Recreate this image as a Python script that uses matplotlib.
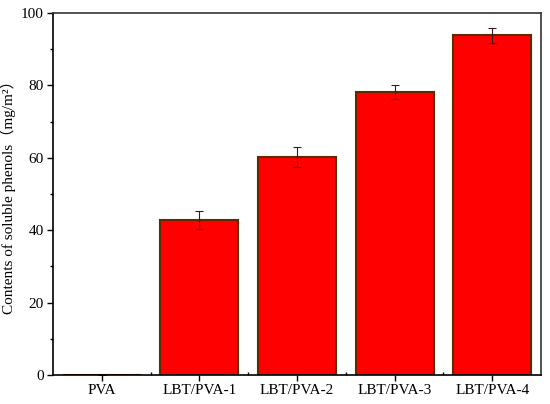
import matplotlib
matplotlib.use("Agg")
import matplotlib.pyplot as plt
import numpy as np
from matplotlib.ticker import MultipleLocator, FixedLocator

# data
samples = ["PVA", "LBT/PVA-1", "LBT/PVA-2", "LBT/PVA-3", "LBT/PVA-4"]
phenols = [0, 42.8, 60.2, 78.1, 93.8]
phenols_err = [0, 2.4, 2.8, 1.9, 2.1]

plt.rcParams['font.family'] = ['Liberation Serif', 'Noto Sans CJK SC']

fig = plt.figure(figsize=(5.5, 4.04), dpi=100)
ax = fig.add_axes([0.0964, 0.0718, 0.8872, 0.896])

x = np.arange(len(samples))
ax.bar(x, phenols, width=0.8, color='#ff0000', edgecolor='#5e2a00', linewidth=1.5,
       yerr=phenols_err, error_kw=dict(ecolor='#3a1a1a', elinewidth=0.8, capsize=3, capthick=0.8))

ax.set_xlim(-0.5, len(samples) - 0.5)
ax.set_ylim(0, 100)
ax.set_xticks(x)
ax.set_xticklabels(samples, fontsize=11)
ax.xaxis.set_minor_locator(FixedLocator(x[:-1] + 0.5))
ax.yaxis.set_major_locator(MultipleLocator(20))
ax.yaxis.set_minor_locator(MultipleLocator(10))
ax.tick_params(axis='both', which='major', direction='out', length=4.5, width=1, labelsize=11, pad=2)
ax.tick_params(axis='x', which='minor', direction='in', length=2.5, width=1)
ax.tick_params(axis='y', which='minor', direction='out', length=2.5, width=1)
ax.tick_params(top=False, right=False)

for s in ['left', 'bottom']:
    ax.spines[s].set_linewidth(1.2)
for s in ['top', 'right']:
    ax.spines[s].set_linewidth(1.2)
    ax.spines[s].set_color('#333333')

ax.set_ylabel("Contents of soluble phenols（mg/m²）", fontsize=11, labelpad=4)

fig.savefig("out.png", dpi=100)
